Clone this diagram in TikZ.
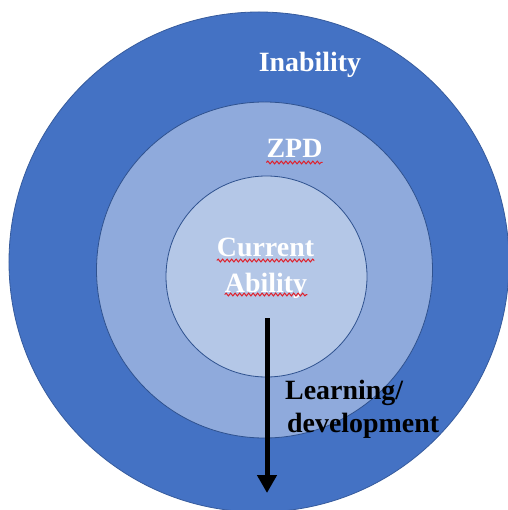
\documentclass[tikz,border=0pt]{standalone}
\usepackage{fontspec}
\setmainfont{Liberation Serif}
\usetikzlibrary{arrows.meta,decorations.pathmorphing}
\definecolor{ringdark}{HTML}{4472C4}
\definecolor{ringmid}{HTML}{8FAADC}
\definecolor{ringlight}{HTML}{B4C7E7}
\definecolor{ringedge}{HTML}{2F528F}
\definecolor{marks}{HTML}{E0202A}
\tikzset{
  ring/.style={circle, draw=ringedge, line width=0.8bp, inner sep=0pt},
  lbl/.style={font=\bfseries\fontsize{28}{33}\selectfont, inner sep=0pt},
  squiggle/.style={draw=marks, line width=1bp,
    decorate, decoration={snake, segment length=4.5bp, amplitude=1.4bp}},
  growth/.style={line width=5bp, -{Triangle[length=18bp,width=19bp]}}
}
\begin{document}
\begin{tikzpicture}[x=1bp,y=-1bp]
  \useasboundingbox (0,0) rectangle (508,510);
  \fill[white] (0,0) rectangle (508,510);
  \clip (0,0) rectangle (508,510);
  % nested circles
  \node[ring, fill=ringdark, draw=ringdark!80!black, minimum size=500bp] (outer) at (259,262) {};
  \node[ring, fill=ringmid, minimum size=336bp] (middle) at (264.5,270) {};
  \node[ring, fill=ringlight, minimum size=201bp] (inner) at (266.5,276.5) {};
  % labels
  \node[lbl, white, anchor=base] (inab) at (310,72) {Inability};
  \node[lbl, white, anchor=base] (zpd) at (294.5,158) {ZPD};
  \node[lbl, white, anchor=base] (cur) at (265.5,256) {Current};
  \node[lbl, white, anchor=base] (abil) at (266,292) {Ability};
  \node[lbl, black, anchor=base west] (learn) at (285,399) {Learning/};
  \node[lbl, black, anchor=base west] (dev) at (287,432) {development};
  % spell-check marks
  \draw[squiggle] ([yshift=-4.5bp]zpd.base west) -- ([yshift=-4.5bp]zpd.base east);
  \draw[squiggle] ([yshift=-4.5bp]cur.base west) -- ([yshift=-4.5bp]cur.base east);
  \draw[squiggle] ([yshift=-2.5bp]abil.base west) -- ([yshift=-2.5bp]abil.base east);
  % learning arrow
  \coordinate (astart) at (267,318);
  \coordinate (aend) at (267,493);
  \draw[growth] (astart) -- (aend);
\end{tikzpicture}
\end{document}
